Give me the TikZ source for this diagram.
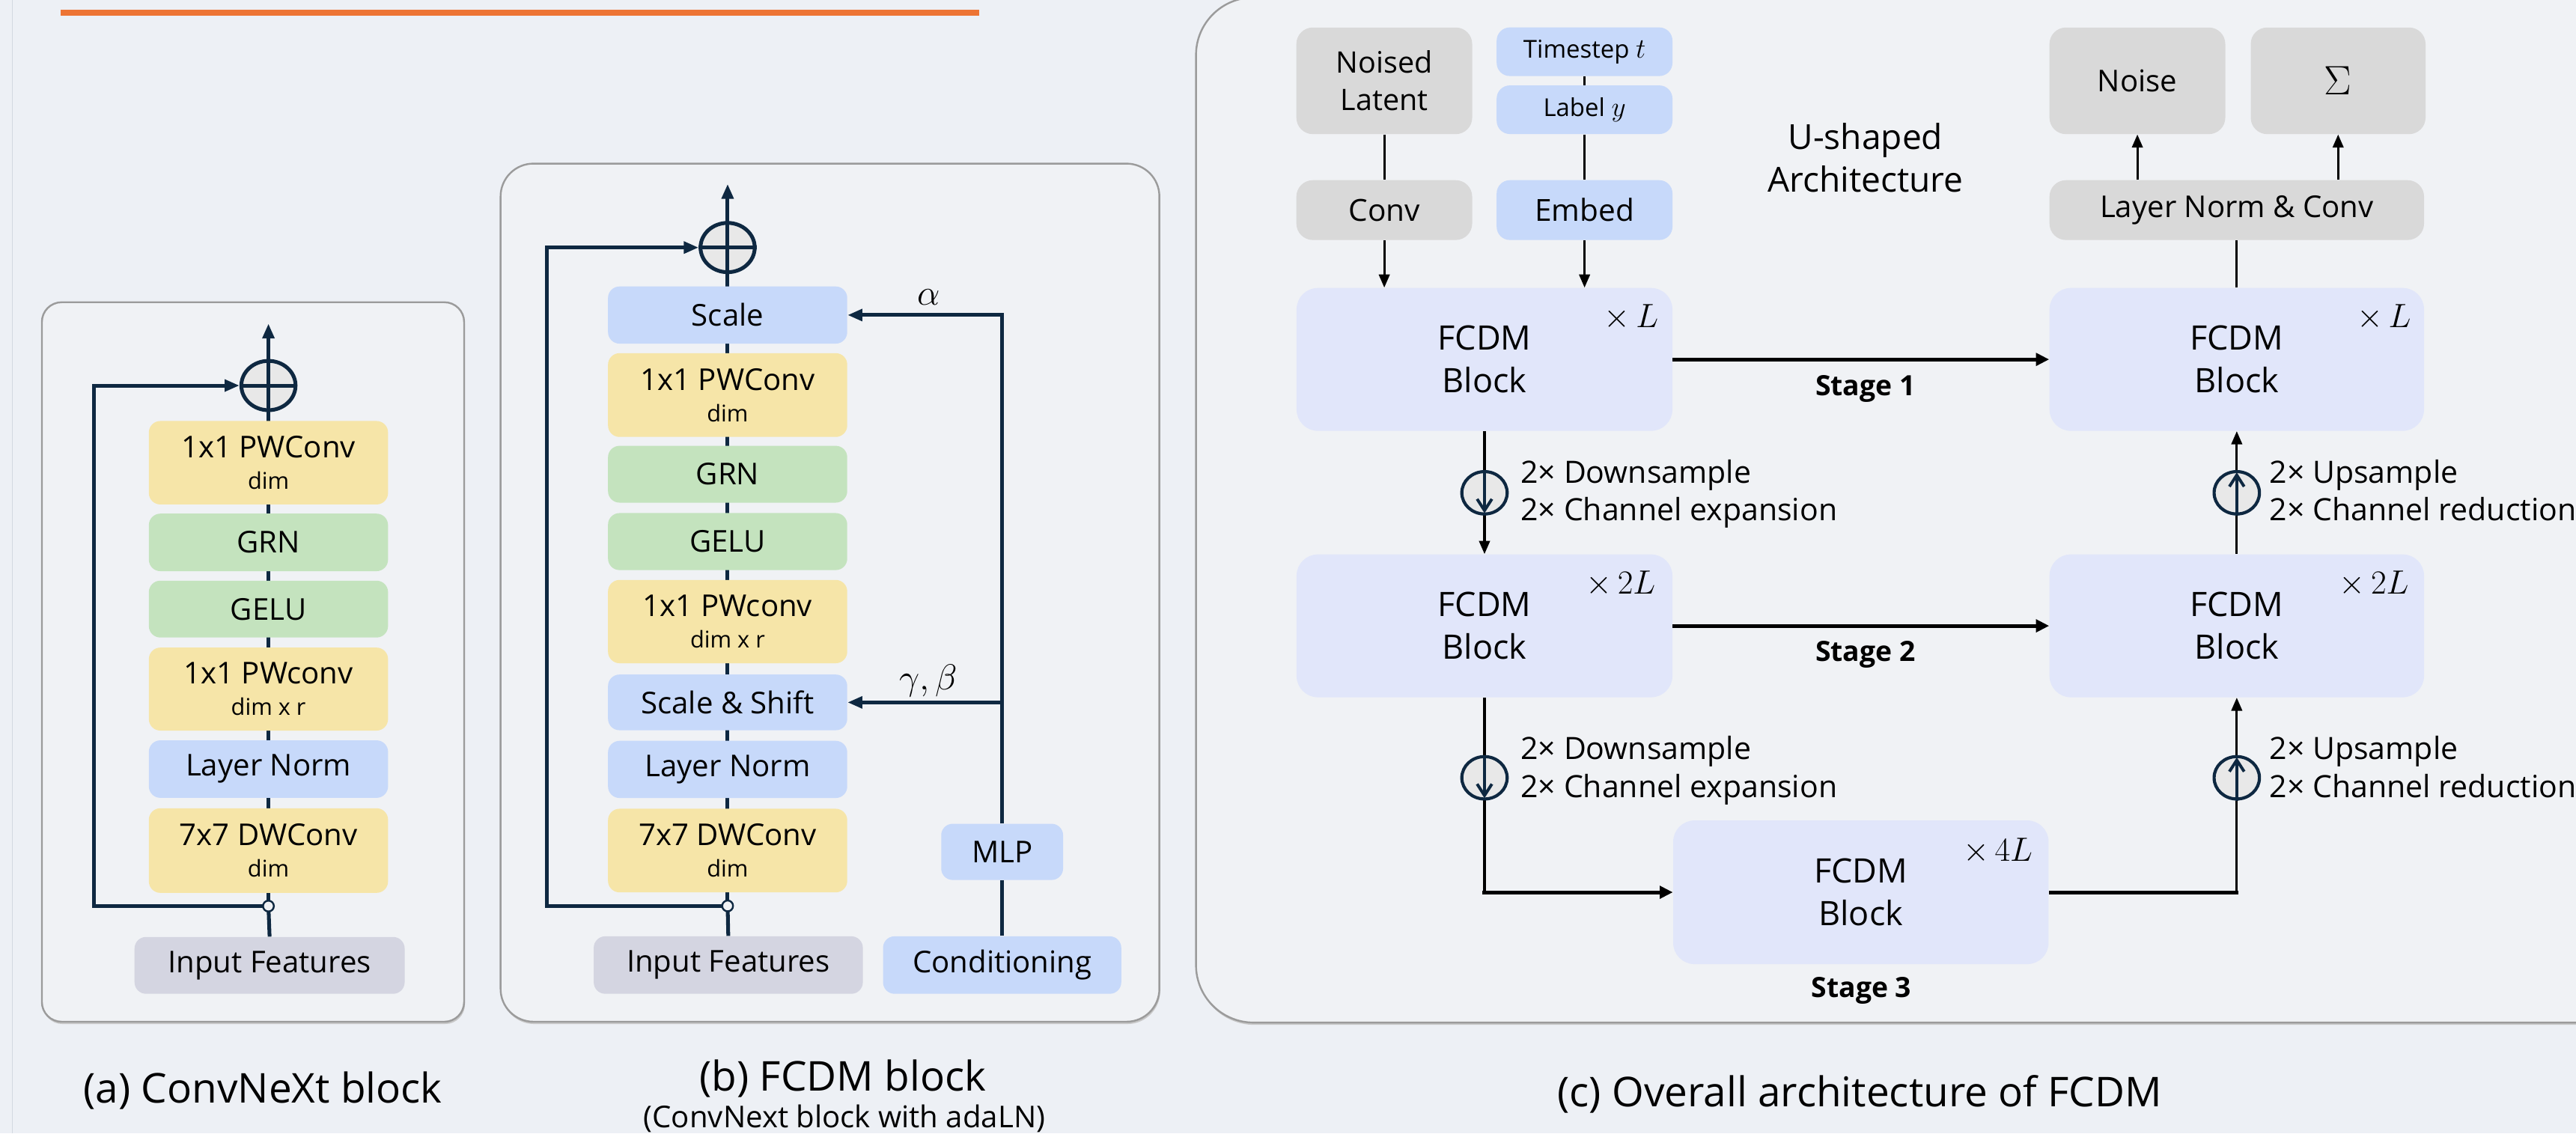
\RequirePackage{fix-cm}
\documentclass[tikz,border=0pt]{standalone}
\usepackage{fontspec}
\setmainfont{Open Sans}
\usetikzlibrary{arrows.meta,calc,shapes.geometric}
\definecolor{bgc}{HTML}{EDF0F5}
\definecolor{panelc}{HTML}{F0F2F5}
\definecolor{panelb}{HTML}{9B9B9B}
\definecolor{leftl}{HTML}{D3D8E0}
\definecolor{cyel}{HTML}{F6E5A8}
\definecolor{cgrn}{HTML}{C4E3BE}
\definecolor{cblu}{HTML}{C7D9FA}
\definecolor{cinp}{HTML}{D4D5E1}
\definecolor{cgry}{HTML}{D9D9D9}
\definecolor{cfcdm}{HTML}{E1E6FA}
\definecolor{navy}{HTML}{0E2841}
\definecolor{plusf}{HTML}{E8E8E8}
\definecolor{orng}{HTML}{ED7434}
\newcommand\fsz[2]{\fontsize{#1}{#2}\selectfont}
\newcommand\lblf{\fontsize{18.3}{19}\selectfont}
\newcommand\subf{\fontsize{14}{16}\selectfont}
\tikzset{
  panel/.style={fill=panelc, draw=panelb, line width=1.1pt},
  shd/.style={fill=black!22},
  bx/.style={rounded corners=7pt, inner sep=0pt, align=center, font=\lblf, text=black},
  yel/.style={bx, fill=cyel, minimum width=145.6},
  grnb/.style={bx, fill=cgrn, minimum width=145.6},
  blub/.style={bx, fill=cblu, minimum width=145.6},
  inpb/.style={bx, fill=cinp},
  gbox/.style={bx, fill=cgry, rounded corners=10pt},
  bbox/.style={bx, fill=cblu, rounded corners=8pt},
  fbox/.style={bx, fill=cfcdm, rounded corners=13pt, font=\fsz{20.5}{26}},
  nav/.style={draw=navy, line width=2.3pt},
  arrA/.style={-{Triangle[length=9pt,width=7pt]}},
  plusn/.style={ellipse, minimum width=33, minimum height=30, inner sep=0pt, fill=plusf, draw=navy, line width=2.3pt},
  smallc/.style={circle, minimum size=6.6, inner sep=0pt, fill=panelc, draw=navy, line width=1.1pt},
  blk/.style={draw=black, line width=1.4pt},
  stg/.style={draw=black, line width=2.3pt},
  arrB/.style={-{Triangle[length=8pt,width=6.5pt]}},
  arrS/.style={-{Triangle[length=8pt,width=7.5pt]}},
  dcirc/.style={ellipse, minimum width=27.6, minimum height=25.8, inner sep=0pt, fill=plusf, draw=navy, line width=1.9pt},
  chev/.style={draw=navy, line width=1.8pt, -{Straight Barb[length=7pt,width=9pt]}},
  sidet/.style={anchor=base west, inner sep=0pt, font=\fsz{18.7}{20}},
  stagef/.style={anchor=base, inner sep=0pt, font=\fsz{17}{20}\bfseries},
  multf/.style={inner sep=0pt, font=\fsz{20.5}{22}},
  capf/.style={inner sep=0pt, font=\fsz{25}{28}},
}
\begin{document}
\begin{tikzpicture}[x=1pt,y=-1pt]
\clip (0,0) rectangle (1568,690);
\fill[bgc] (0,0) rectangle (1568,690);
\draw[draw=leftl, line width=0.8pt] (7.5,0) -- (7.5,690);
\fill[orng] (37,6.1) rectangle (596,9.6);

% panels
\fill[shd, rounded corners=12pt] (26,185.4) rectangle (283,623.4);
\path[panel, rounded corners=12pt] (25.5,184) rectangle (282.5,622);
\fill[shd, rounded corners=20pt] (305.2,101) rectangle (706.2,623.4);
\path[panel, rounded corners=20pt] (304.7,99.6) rectangle (705.7,622);
\fill[shd, rounded corners=35pt] (728.5,0) rectangle (1620,623.9);
\path[panel, rounded corners=35pt] (728,-1.5) rectangle (1620,622.5);

% ---------- panel (a)
\coordinate (a0) at (163.4,551.6);
\coordinate (apc) at (163.4,234.7);
\coordinate (atop) at (163.4,197);
\coordinate (askip) at (57,551.6);
\draw[nav] (a0) -- (apc);
\node[yel, minimum height=50.8] (a6) at (163.4,281.7) {1x1 PWConv\\{\subf dim}};
\node[grnb, minimum height=35] (a5) at (163.4,330.2) {GRN};
\node[grnb, minimum height=34.6] (a4) at (163.4,370.8) {GELU};
\node[yel, minimum height=50.5] (a3) at (163.4,419.5) {1x1 PWconv\\{\subf dim x r}};
\node[blub, minimum height=35] (a2) at (163.4,468.2) {Layer Norm};
\node[yel, minimum height=51.5] (a1) at (163.4,517.8) {7x7 DWConv\\{\subf dim}};
\node[inpb, minimum width=164.4, minimum height=34.6] (ain) at (164.1,587.7) {Input Features};
\node[plusn] (ap) at (apc) {};
\draw[nav] (ap.north) -- (ap.south) (ap.west) -- (ap.east);
\draw[nav, arrA] (ap.north) -- (atop);
\draw[nav, arrA] (a0) -- (askip) |- (ap.west);
\draw[nav] (ain.north) -- (a0);
\node[smallc] (a0n) at (a0) {};

% ---------- panel (b)
\coordinate (b0) at (442.9,551.5);
\coordinate (bpc) at (442.9,150.7);
\coordinate (btop) at (442.9,112);
\coordinate (bskip) at (332.7,551.5);
\draw[nav] (b0) -- (bpc);
\node[blub, minimum height=34.8] (b8) at (442.9,191.8) {Scale};
\node[yel, minimum height=51] (b7) at (442.9,240.5) {1x1 PWConv\\{\subf dim}};
\node[grnb, minimum height=34.6] (b6) at (442.9,288.7) {GRN};
\node[grnb, minimum height=34.7] (b5) at (442.9,329.7) {GELU};
\node[yel, minimum height=50.7] (b4) at (442.9,378.4) {1x1 PWconv\\{\subf dim x r}};
\node[blub, minimum height=33.9] (b3) at (442.9,427.6) {Scale \& Shift};
\node[blub, minimum height=34.8] (b2) at (442.9,468.4) {Layer Norm};
\node[yel, minimum height=50.9] (b1) at (442.9,517.8) {7x7 DWConv\\{\subf dim}};
\node[inpb, minimum width=163.8, minimum height=35] (bin) at (443.3,587.5) {Input Features};
\node[blub, minimum width=145, minimum height=35] (cond) at (610,587.5) {Conditioning};
\node[blub, minimum width=74.2, minimum height=34.2] (mlp) at (610,518.6) {MLP};
\node[plusn] (bp) at (bpc) {};
\draw[nav] (bp.north) -- (bp.south) (bp.west) -- (bp.east);
\draw[nav, arrA] (bp.north) -- (btop);
\draw[nav, arrA] (b0) -- (bskip) |- (bp.west);
\draw[nav] (bin.north) -- (b0);
\node[smallc] (b0n) at (b0) {};
\draw[nav] (cond.north) -- (mlp.south);
\draw[nav, arrA] (mlp.north) |- (b8.east);
\draw[nav, arrA] (mlp.north |- b3.east) -- (b3.east);
\node[inner sep=0pt, font=\fsz{22}{24}] (alpha) at (565.5,181) {$\alpha$};
\node[inner sep=0pt, font=\fsz{22}{24}] (gambet) at (565,414.6) {$\gamma,\beta$};

% ---------- panel (c)
\node[gbox, minimum width=107, minimum height=64.9, font=\fsz{18}{22.8}] (nl) at (842.6,49.2) {Noised\\Latent};
\node[bbox, minimum width=107, minimum height=29.6, font=\fsz{15}{17}] (ts) at (964.5,31.5) {Timestep {\fsz{17}{17}$t$}};
\node[bbox, minimum width=107, minimum height=29.6, font=\fsz{15}{17}] (lab) at (964.5,66.8) {Label {\fsz{17}{17}$y$}};
\node[gbox, minimum width=107, minimum height=36.4, font=\fsz{18.5}{20}] (conv) at (842.6,127.9) {Conv};
\node[bbox, minimum width=107, minimum height=36.4, font=\fsz{18.5}{20}] (emb) at (964.5,127.9) {Embed};
\node[gbox, minimum width=107, minimum height=64.9] (noise) at (1301,49.2) {Noise};
\node[gbox, minimum width=106.4, minimum height=64.9, font=\fsz{25}{26}] (sig) at (1423.2,49.2) {$\Sigma$};
\node[gbox, minimum width=228, minimum height=36.4] (lnc) at (1361.5,127.9) {Layer Norm \& Conv};
\node[inner sep=0pt, align=center, font=\fsz{21}{26}] (ush) at (1135.5,96) {U-shaped\\Architecture};

\node[fbox, minimum width=228.8, minimum height=87] (f1) at (903.6,218.8) {FCDM\\Block};
\node[fbox, minimum width=228.8, minimum height=87] (f2) at (903.6,381) {FCDM\\Block};
\node[fbox, minimum width=228.5, minimum height=87.5] (f3) at (1132.7,543.2) {FCDM\\Block};
\node[fbox, minimum width=228, minimum height=87] (f1r) at (1361.5,218.8) {FCDM\\Block};
\node[fbox, minimum width=228, minimum height=87] (f2r) at (1361.5,381) {FCDM\\Block};

\node[multf] (m1) at (993,193) {$\times\,L$};
\node[multf] (m1r) at (1451,193) {$\times\,L$};
\node[multf] (m2) at (986.5,355.5) {$\times\,2L$};
\node[multf] (m2r) at (1445,355.5) {$\times\,2L$};
\node[multf] (m3) at (1216,518) {$\times\,4L$};

% top connectors
\draw[blk] (nl.south) -- (conv.north);
\draw[blk] (ts.south) -- (lab.north);
\draw[blk] (lab.south) -- (emb.north);
\draw[blk, arrB] (conv.south) -- (conv.south |- f1.north);
\draw[blk, arrB] (emb.south) -- (emb.south |- f1.north);
\draw[blk, arrB] (noise.south |- lnc.north) -- (noise.south);
\draw[blk, arrB] (sig.south |- lnc.north) -- (sig.south);
\draw[blk] (f1r.north) -- (f1r.north |- lnc.south);

% stage connectors
\draw[stg, arrS] (f1.east) -- (f1r.west);
\draw[stg, arrS] (f2.east) -- (f2r.west);
\node[stagef] (s1) at (1135.5,240.6) {Stage 1};
\node[stagef] (s2) at (1135.5,402.5) {Stage 2};
\node[stagef] (s3) at (1133,607) {Stage 3};

% down path
\coordinate (c3d) at (903.6,543.2);
\coordinate (c3u) at (1361.5,543.2);
\draw[blk, arrB] (f1.south) -- (f2.north);
\draw[blk] (f2.south) -- (c3d);
\draw[stg, arrS] ([xshift=-1.15pt]c3d) -- (f3.west);
\draw[stg] (f3.east) -- ([xshift=1.15pt]c3u);
\draw[blk, arrB] (c3u) -- (f2r.south);
\draw[blk, arrB] (f2r.north) -- (f1r.south);

\node[dcirc] (d1) at (903.6,300) {};
\draw[chev, shorten >=1.4pt] (d1.north) -- (d1.south);
\node[dcirc] (d2) at (903.6,473.5) {};
\draw[chev, shorten >=1.4pt] (d2.north) -- (d2.south);
\node[dcirc] (u1) at (1361.5,300) {};
\draw[chev, shorten >=1.4pt] (u1.south) -- (u1.north);
\node[dcirc] (u2) at (1361.5,473.5) {};
\draw[chev, shorten >=1.4pt] (u2.south) -- (u2.north);

\node[sidet] (dt1) at (925.5,294) {2× Downsample};
\node[sidet] (dt2) at (925.5,316.7) {2× Channel expansion};
\node[sidet] (dt3) at (925.5,462.5) {2× Downsample};
\node[sidet] (dt4) at (925.5,485.3) {2× Channel expansion};
\node[sidet] (ut1) at (1381.3,294) {2× Upsample};
\node[sidet] (ut2) at (1381.3,316.7) {2× Channel reduction};
\node[sidet] (ut3) at (1381.3,462.5) {2× Upsample};
\node[sidet] (ut4) at (1381.3,485.3) {2× Channel reduction};

% captions
\node[capf] (capa) at (160,664) {(a) ConvNeXt block};
\node[capf] (capb) at (513,656.5) {(b) FCDM block};
\node[inner sep=0pt, font=\fsz{18.3}{20}] (capb2) at (514,681) {(ConvNext block with adaLN)};
\node[capf] (capc) at (1132,666) {(c) Overall architecture of FCDM};
\end{tikzpicture}
\end{document}
